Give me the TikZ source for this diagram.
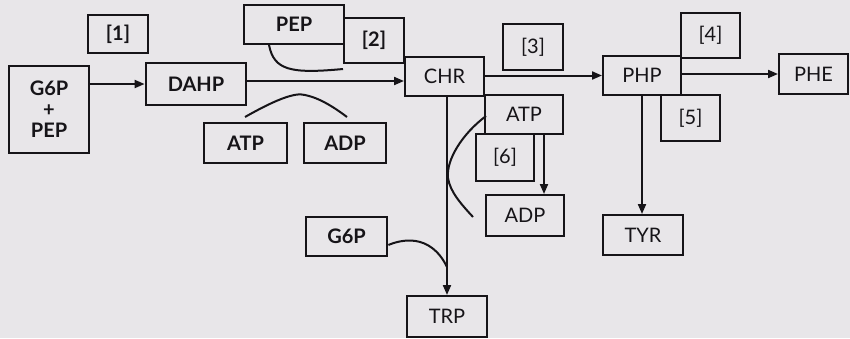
\documentclass[tikz,border=0pt]{standalone}
\usepackage{fontspec}
\setmainfont{Lato}
\usetikzlibrary{arrows.meta}
\definecolor{paper}{RGB}{232,230,233}
\definecolor{ink}{RGB}{22,20,24}
\tikzset{
  box/.style={draw=ink, line width=2pt, inner sep=0pt, text=ink,
    font=\fontsize{20}{23}\selectfont, align=center},
  boldbox/.style={box, line width=2.8pt, font=\fontsize{20}{23}\selectfont\bfseries},
  arr/.style={draw=ink, line width=2pt, -{Triangle[length=10pt,width=8pt]}},
  curve/.style={draw=ink, line width=2pt},
}
\begin{document}
\begin{tikzpicture}[x={(1pt,0)}, y={(0,-1pt)}]
\useasboundingbox (0,0) rectangle (850,338);
\fill[paper] (0,0) rectangle (850,338);

% bold boxes of the first steps
\node[boldbox, minimum width=80pt, minimum height=87pt] (gp) at (49,109.5) {G6P\\[-2pt]+\\[-2pt]PEP};
\node[boldbox, minimum width=60pt, minimum height=38pt] (e1) at (118,34) {[1]};
\node[boldbox, minimum width=100pt, minimum height=42pt] (dahp) at (196,84) {DAHP};
\node[boldbox, minimum width=100pt, minimum height=39pt] (pep) at (294,24.5) {PEP};
\node[boldbox, minimum width=60pt, minimum height=45pt] (e2) at (374,40.5) {[2]};
\node[boldbox, minimum width=83pt, minimum height=40pt] (atpb) at (245.5,143) {ATP};
\node[boldbox, minimum width=82pt, minimum height=40pt] (adpb) at (345,143) {ADP};
\node[boldbox, minimum width=81pt, minimum height=39pt] (g6p) at (346.5,236.5) {G6P};

% later steps
\node[box, minimum width=79pt, minimum height=39pt] (chr) at (444.5,76.5) {CHR};
\node[box, minimum width=60pt, minimum height=46pt] (e3) at (533,47) {[3]};
\node[box, minimum width=78pt, minimum height=39pt] (php) at (642,75.5) {PHP};
\node[box, minimum width=59pt, minimum height=45pt] (e4) at (710.5,35.5) {[4]};
\node[box, minimum width=69pt, minimum height=40pt] (phe) at (813.5,74) {PHE};
\node[box, minimum width=59pt, minimum height=46pt] (e5) at (690.5,118) {[5]};
\node[box, minimum width=80pt, minimum height=40pt] (tyr) at (643,235) {TYR};
\node[box, minimum width=78pt, minimum height=39pt] (atpn) at (524,114.5) {ATP};
\node[box, minimum width=58pt, minimum height=47pt] (e6) at (505,157.5) {[6]};
\node[box, minimum width=78pt, minimum height=41pt] (adpn) at (525,215.5) {ADP};
\node[box, minimum width=80pt, minimum height=41pt] (trp) at (447,316.5) {TRP};

% main pathway arrows
\draw[arr] (gp.east |- dahp.west) -- (dahp.west);
\draw[arr] ([yshift=3pt]dahp.east) -- ([yshift=3pt]dahp.east -| chr.west);
\draw[arr] (chr.east |- php.west) -- (php.west);
\draw[arr] (php.east |- phe.west) -- (phe.west);
\draw[arr] (php.south) -- (tyr.north -| php.south);
\draw[arr] (chr.south -| trp.north) -- (trp.north);
\draw[arr] ([xshift=-20pt]atpn.south east) -- ([xshift=-20pt]atpn.south east |- adpn.north);

% co-substrate curves
\coordinate (pepA) at (269,45);
\coordinate (pepB) at (343,69);
\draw[curve] (pepA) .. controls (274,70) and (290,74) .. (pepB);

\coordinate (atA) at (245,117);
\coordinate (atB) at (347,117);
\draw[curve] (atA) .. controls (275,100) and (295,92) .. (305,95)
  .. controls (320,98) and (335,108) .. (atB);

\coordinate (gjoin) at (447,267);
\draw[curve] (g6p.east |- 0,245) .. controls (400,240) and (430,232) .. (gjoin);

\coordinate (atC) at (486,116);
\coordinate (atD) at (448,178);
\coordinate (atE) at (473,217);
\draw[curve] (atC) .. controls (462,134) and (446,160) .. (atD)
  .. controls (450,192) and (462,205) .. (atE);
\end{tikzpicture}
\end{document}
